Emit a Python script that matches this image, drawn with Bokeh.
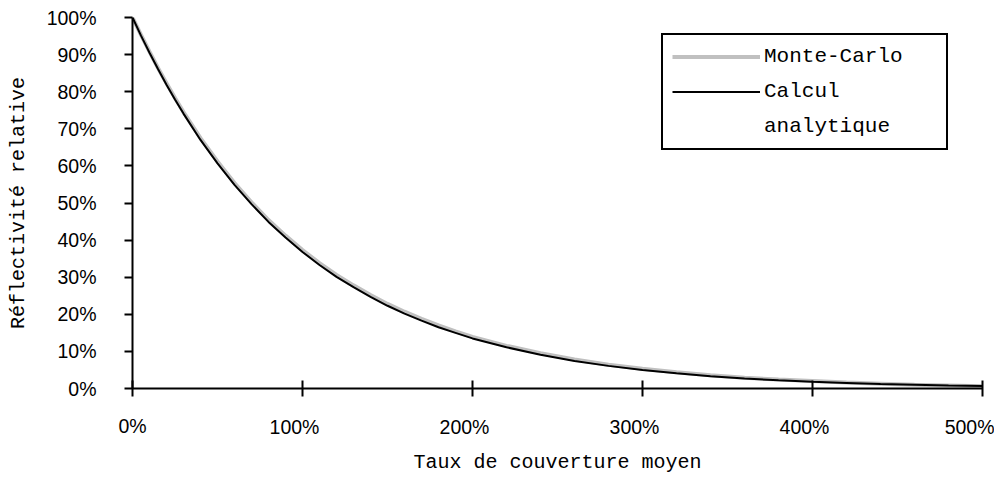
from bokeh.plotting import figure
from bokeh.models import (Range1d, FixedTicker, PrintfTickFormatter, Legend, LegendItem,
                          LinearAxis)
from bokeh.embed import file_html
from bokeh.resources import INLINE

# Data (x and y in %)
coverage = [0, 5, 10, 15, 20, 25, 30, 40, 50, 60, 70, 80, 90, 100, 110, 120, 130,
            140, 150, 160, 170, 180, 190, 200, 220, 240, 260, 280, 300, 320, 340,
            360, 380, 400, 420, 440, 460, 480, 500]
monte_carlo = [100, 95.3, 90.8, 86.4, 82.3, 78.3, 74.5, 67.5, 61.2, 55.4, 50.2, 45.4,
               41.2, 37.3, 33.8, 30.6, 27.8, 25.2, 22.8, 20.7, 18.8, 17.0, 15.4, 13.9,
               11.5, 9.5, 7.8, 6.4, 5.3, 4.4, 3.6, 2.9, 2.4, 2.0, 1.6, 1.3, 1.0, 0.8, 0.6]
analytique = [100, 95.1, 90.5, 86.1, 81.9, 77.9, 74.1, 67.0, 60.7, 54.9, 49.7, 44.9,
              40.7, 36.8, 33.3, 30.1, 27.3, 24.7, 22.3, 20.2, 18.3, 16.5, 15.0, 13.5,
              11.1, 9.1, 7.4, 6.1, 5.0, 4.1, 3.3, 2.7, 2.2, 1.8, 1.5, 1.2, 1.0, 0.8, 0.7]

x_ticks = [0, 100, 200, 300, 400, 500]
x_tick_labels = ["0%", "100%", "200%", "300%", "400%", "500%"]
y_ticks = [0, 10, 20, 30, 40, 50, 60, 70, 80, 90, 100]

FRAME_W = 850
LABEL_SHIFT_PX = 8

p = figure(width=994, height=477, output_backend="svg", toolbar_location=None,
           x_range=Range1d(0, 500), y_range=Range1d(0, 100),
           min_border_left=132, min_border_right=12, min_border_top=17,
           min_border_bottom=89)
p.outline_line_color = None
p.xgrid.visible = False
p.ygrid.visible = False
p.background_fill_color = "white"

r_mc = p.line(coverage, monte_carlo, line_color="#c0c0c0", line_width=4)
r_an = p.line(coverage, analytique, line_color="black", line_width=2)
r_dummy = p.line([], [], line_alpha=0)  # for the second line of the legend label

# label axis: same ticks, labels drawn slightly to the left like in the reference
shift = LABEL_SHIFT_PX * 500 / FRAME_W
p.extra_x_ranges = {"lab": Range1d(shift, 500.01 + shift)}
lab_axis = LinearAxis(x_range_name="lab")
p.add_layout(lab_axis, "below")


def style(ax):
    ax.axis_line_width = 2
    ax.axis_line_color = "black"
    ax.major_tick_line_width = 2
    ax.major_tick_line_color = "black"
    ax.minor_tick_line_color = None
    ax.axis_label_text_font = "Liberation Mono"
    ax.axis_label_text_font_size = "20px"
    ax.axis_label_text_font_style = "normal"
    ax.axis_label_text_color = "black"
    ax.major_label_text_font = "Liberation Sans"
    ax.major_label_text_font_size = "19.5px"
    ax.major_label_text_color = "black"


xa = p.xaxis[0]
style(xa)
xa.ticker = FixedTicker(ticks=x_ticks)
xa.major_tick_in = 8
xa.major_tick_out = 8
# the first label sits on the main axis, the others on the shifted label axis
xa.major_label_overrides = {t: (lab if t == x_ticks[0] else "")
                            for t, lab in zip(x_ticks, x_tick_labels)}
xa.major_label_standoff = 18

style(lab_axis)
lab_axis.ticker = FixedTicker(ticks=x_ticks)
lab_axis.major_label_overrides = dict(zip(x_ticks, x_tick_labels))
lab_axis.axis_line_color = None
lab_axis.major_tick_line_color = None
lab_axis.major_tick_in = 0
lab_axis.major_tick_out = 0
lab_axis.major_label_standoff = -24
lab_axis.axis_label = "Taux de couverture moyen"
lab_axis.axis_label_standoff = 10

ya = p.yaxis[0]
style(ya)
ya.ticker = FixedTicker(ticks=y_ticks)
ya.formatter = PrintfTickFormatter(format="%d%%")
ya.major_tick_in = 0
ya.major_tick_out = 8
ya.major_label_standoff = 28
ya.axis_label = "Réflectivité relative"
ya.axis_label_standoff = 14

legend = Legend(items=[LegendItem(label="Monte-Carlo", renderers=[r_mc]),
                       LegendItem(label="Calcul", renderers=[r_an]),
                       LegendItem(label="analytique", renderers=[r_dummy])],
                location=(529, 238))
legend.border_line_color = "black"
legend.border_line_width = 2
legend.border_line_alpha = 1
legend.background_fill_color = "white"
legend.background_fill_alpha = 1
legend.label_text_font = "Liberation Mono"
legend.label_text_font_size = "21px"
legend.label_text_color = "black"
legend.glyph_width = 88
legend.glyph_height = 25
legend.label_height = 25
legend.label_standoff = 4
legend.padding = 9
legend.spacing = 10
legend.label_width = 173
legend.margin = 0
p.add_layout(legend)

open("out.html", "w").write(file_html(p, INLINE))
